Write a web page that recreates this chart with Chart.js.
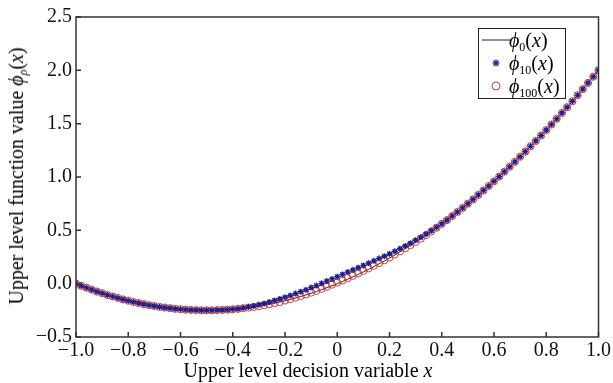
<!DOCTYPE html>
<html>
<head>
<meta charset="utf-8">
<script src="https://cdn.jsdelivr.net/npm/chart.js@4/dist/chart.umd.min.js"></script>
<style>
  body { margin: 0; background: #fff; }
  #wrap { position: relative; width: 613px; height: 383px; font-family: "Liberation Serif", serif; }
  #ytitle { position: absolute; left: 18px; top: 176px; transform: translate(-50%, -50%) rotate(-90deg); white-space: nowrap; font-size: 20px; }
  #xtitle { position: absolute; left: 308px; top: 370px; transform: translate(-50%, -50%); white-space: nowrap; font-size: 20px; }
  #legend { position: absolute; left: 478px; top: 28px; width: 86px; height: 69px; border: 1.5px solid #222; background: #fff; font-size: 20px; transform: translateZ(0); will-change: transform; }
  #legend div { position: absolute; left: 0; height: 22px; line-height: 22px; white-space: nowrap; }
  #legend svg { position: absolute; left: 3px; top: 4px; }
  #legend span { position: absolute; left: 30px; }
  sub { font-size: 12px; vertical-align: -4px; }
</style>
</head>
<body>
<div id="wrap">
  <canvas id="chart" width="613" height="383"></canvas>
  <div id="ytitle">Upper level function value <i>ϕ</i><sub><i>ρ</i></sub>(<i>x</i>)</div>
  <div id="xtitle">Upper level decision variable <i>x</i></div>
  <div id="legend">
    <div style="top:0px"><svg width="28" height="14"><line x1="0" y1="7" x2="28" y2="7" stroke="#222" stroke-width="1"/></svg><span><i>ϕ</i><sub>0</sub>(<i>x</i>)</span></div>
    <div style="top:23px"><svg width="28" height="14"><g stroke="#1f1f8a" stroke-width="1.3"><line x1="14" y1="3.5" x2="14" y2="10.5"/><line x1="10.5" y1="7" x2="17.5" y2="7"/><line x1="11.5" y1="4.5" x2="16.5" y2="9.5"/><line x1="16.5" y1="4.5" x2="11.5" y2="9.5"/></g></svg><span><i>ϕ</i><sub>10</sub>(<i>x</i>)</span></div>
    <div style="top:46px"><svg width="28" height="14"><circle cx="14" cy="7" r="4" fill="none" stroke="#d23c3c" stroke-width="1"/></svg><span><i>ϕ</i><sub>100</sub>(<i>x</i>)</span></div>
  </div>
</div>
<script>
// x grid used for all three curves (step 0.02)
const xs = [-1.00, -0.98, -0.96, -0.94, -0.92, -0.90, -0.88, -0.86, -0.84, -0.82,
  -0.80, -0.78, -0.76, -0.74, -0.72, -0.70, -0.68, -0.66, -0.64, -0.62,
  -0.60, -0.58, -0.56, -0.54, -0.52, -0.50, -0.48, -0.46, -0.44, -0.42,
  -0.40, -0.38, -0.36, -0.34, -0.32, -0.30, -0.28, -0.26, -0.24, -0.22,
  -0.20, -0.18, -0.16, -0.14, -0.12, -0.10, -0.08, -0.06, -0.04, -0.02,
  0.00, 0.02, 0.04, 0.06, 0.08, 0.10, 0.12, 0.14, 0.16, 0.18,
  0.20, 0.22, 0.24, 0.26, 0.28, 0.30, 0.32, 0.34, 0.36, 0.38,
  0.40, 0.42, 0.44, 0.46, 0.48, 0.50, 0.52, 0.54, 0.56, 0.58,
  0.60, 0.62, 0.64, 0.66, 0.68, 0.70, 0.72, 0.74, 0.76, 0.78,
  0.80, 0.82, 0.84, 0.86, 0.88, 0.90, 0.92, 0.94, 0.96, 0.98, 1.00];

const phi0 = [0.000, -0.020, -0.038, -0.056, -0.074, -0.090, -0.106, -0.120, -0.134, -0.148,
  -0.160, -0.172, -0.182, -0.192, -0.202, -0.210, -0.218, -0.224, -0.230, -0.236,
  -0.240, -0.244, -0.246, -0.248, -0.250, -0.250, -0.250, -0.248, -0.246, -0.244,
  -0.240, -0.236, -0.230, -0.224, -0.218, -0.210, -0.202, -0.192, -0.182, -0.172,
  -0.160, -0.148, -0.134, -0.120, -0.106, -0.090, -0.074, -0.056, -0.038, -0.020,
  0.000, 0.020, 0.042, 0.064, 0.086, 0.110, 0.134, 0.160, 0.186, 0.212,
  0.240, 0.268, 0.298, 0.328, 0.358, 0.390, 0.422, 0.456, 0.490, 0.524,
  0.560, 0.596, 0.634, 0.672, 0.710, 0.750, 0.790, 0.832, 0.874, 0.916,
  0.960, 1.004, 1.050, 1.096, 1.142, 1.190, 1.238, 1.288, 1.338, 1.388,
  1.440, 1.492, 1.546, 1.600, 1.654, 1.710, 1.766, 1.824, 1.882, 1.940, 2.000];

const phi10 = [0.000, -0.020, -0.038, -0.056, -0.074, -0.090, -0.106, -0.120, -0.134, -0.148,
  -0.160, -0.172, -0.182, -0.192, -0.202, -0.210, -0.218, -0.224, -0.230, -0.236,
  -0.240, -0.244, -0.246, -0.248, -0.250, -0.250, -0.250, -0.248, -0.246, -0.244,
  -0.240, -0.236, -0.228, -0.219, -0.210, -0.198, -0.186, -0.172, -0.157, -0.143,
  -0.127, -0.111, -0.093, -0.075, -0.057, -0.037, -0.018, 0.003, 0.024, 0.044,
  0.066, 0.087, 0.109, 0.130, 0.150, 0.171, 0.192, 0.214, 0.236, 0.257,
  0.280, 0.303, 0.328, 0.353, 0.378, 0.406, 0.434, 0.464, 0.495, 0.527,
  0.561, 0.596, 0.634, 0.672, 0.710, 0.750, 0.790, 0.832, 0.874, 0.916,
  0.960, 1.004, 1.050, 1.096, 1.142, 1.190, 1.238, 1.288, 1.338, 1.388,
  1.440, 1.492, 1.546, 1.600, 1.654, 1.710, 1.766, 1.824, 1.882, 1.940, 2.000];

const phi100 = [0.000, -0.020, -0.038, -0.056, -0.074, -0.090, -0.106, -0.120, -0.134, -0.148,
  -0.160, -0.172, -0.182, -0.192, -0.202, -0.210, -0.218, -0.224, -0.230, -0.236,
  -0.240, -0.244, -0.246, -0.248, -0.250, -0.250, -0.250, -0.248, -0.246, -0.244,
  -0.240, -0.236, -0.230, -0.224, -0.218, -0.210, -0.202, -0.192, -0.182, -0.172,
  -0.158, -0.145, -0.131, -0.116, -0.101, -0.084, -0.067, -0.048, -0.029, -0.009,
  0.010, 0.030, 0.052, 0.074, 0.096, 0.120, 0.144, 0.169, 0.194, 0.220,
  0.246, 0.274, 0.303, 0.332, 0.362, 0.392, 0.422, 0.456, 0.490, 0.524,
  0.560, 0.596, 0.634, 0.672, 0.710, 0.750, 0.790, 0.832, 0.874, 0.916,
  0.960, 1.004, 1.050, 1.096, 1.142, 1.190, 1.238, 1.288, 1.338, 1.388,
  1.440, 1.492, 1.546, 1.600, 1.654, 1.710, 1.766, 1.824, 1.882, 1.940, 2.000];

const xTicks = [-1.0, -0.8, -0.6, -0.4, -0.2, 0, 0.2, 0.4, 0.6, 0.8, 1.0];
const yTicks = [-0.5, 0.0, 0.5, 1.0, 1.5, 2.0, 2.5];

const pts = (ys) => xs.map((x, i) => ({ x: x, y: ys[i] }));
const fmt = (v, zeroPlain) => {
  if (Math.abs(v) < 1e-9) return zeroPlain ? "0" : "0.0";
  return v.toFixed(1).replace("-", "\u2212");
};

// frame around plot area + inward ticks on bottom and left
const frame = {
  id: "frame",
  afterDraw(chart) {
    const { ctx, chartArea: a, scales } = chart;
    ctx.save();
    ctx.strokeStyle = "#333";
    ctx.lineWidth = 1.5;
    ctx.strokeRect(a.left, a.top, a.right - a.left, a.bottom - a.top);
    ctx.beginPath();
    xTicks.forEach((t) => {
      const px = scales.x.getPixelForValue(t);
      ctx.moveTo(px, a.bottom);
      ctx.lineTo(px, a.bottom - 5);
    });
    yTicks.forEach((t) => {
      const py = scales.y.getPixelForValue(t);
      ctx.moveTo(a.left, py);
      ctx.lineTo(a.left + 5, py);
    });
    ctx.stroke();
    ctx.restore();
  },
};

new Chart(document.getElementById("chart"), {
  type: "scatter",
  data: {
    datasets: [
      {
        label: "phi0",
        data: pts(phi0),
        showLine: true,
        borderColor: "#222",
        borderWidth: 1,
        pointRadius: 0,
        order: 3,
      },
      {
        label: "phi10",
        data: pts(phi10),
        pointStyle: "star",
        pointRadius: 3,
        borderColor: "#1f1f8a",
        backgroundColor: "#1f1f8a",
        pointBorderWidth: 1.3,
        order: 1,
      },
      {
        label: "phi100",
        data: pts(phi100),
        pointStyle: "circle",
        pointRadius: 3.6,
        borderColor: "#d23c3c",
        backgroundColor: "rgba(0,0,0,0)",
        pointBorderWidth: 1,
        order: 2,
      },
    ],
  },
  options: {
    responsive: false,
    animation: false,
    devicePixelRatio: 1,
    layout: { padding: { top: 17, right: 13, left: 0, bottom: 0 } },
    plugins: { legend: { display: false }, tooltip: { enabled: false } },
    scales: {
      x: {
        type: "linear",
        min: -1,
        max: 1,
        afterBuildTicks: (s) => { s.ticks = xTicks.map((v) => ({ value: v })); },
        afterFit: (s) => { s.height = 46; },
        grid: { display: false, drawTicks: false },
        border: { display: false },
        ticks: {
          padding: 2,
          color: "#111",
          font: { family: "Liberation Serif", size: 20 },
          callback: (v) => fmt(v, true),
        },
      },
      y: {
        min: -0.5,
        max: 2.5,
        afterBuildTicks: (s) => { s.ticks = yTicks.map((v) => ({ value: v })); },
        afterFit: (s) => { s.width = 76; },
        grid: { display: false, drawTicks: false },
        border: { display: false },
        ticks: {
          padding: 4,
          color: "#111",
          font: { family: "Liberation Serif", size: 20 },
          callback: (v) => fmt(v, false),
        },
      },
    },
  },
  plugins: [frame],
});
</script>
</body>
</html>
